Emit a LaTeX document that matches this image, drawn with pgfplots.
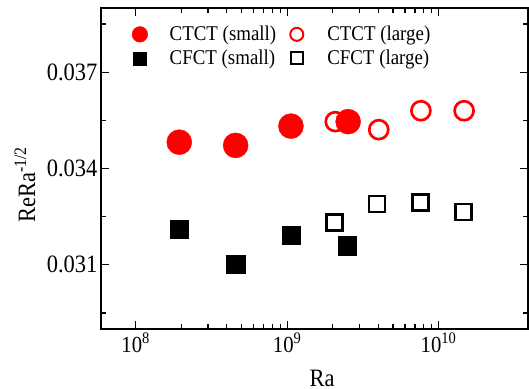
\documentclass[border=0pt]{standalone}
\usepackage{fontspec}
\setmainfont[FakeStretch=0.9]{Liberation Serif}
\usepackage{pgfplots}
\pgfplotsset{compat=1.18}
\begin{document}
\begin{tikzpicture}
\path[use as bounding box] (-101pt,-59pt) rectangle (428pt,329pt);
\begin{axis}[
  at={(0pt,0pt)}, anchor=south west,
  scale only axis, width=427pt, height=321pt,
  xmode=log, xmin=5.9e7, xmax=3.9e10,
  ymin=0.029, ymax=0.039,
  xtick={1e8,1e9,1e10},
  xticklabels={10\textsuperscript{8},10\textsuperscript{9},10\textsuperscript{10}},
  ytick={0.031,0.034,0.037},
  yticklabels={0.031,0.034,0.037},
  minor ytick={0.0295,0.0325,0.0355,0.0385},
  tick align=inside,
  major tick length=8pt, minor tick length=5pt,
  tick style={black, line width=1.2pt},
  axis line style={line width=1.3pt},
  yticklabel style={font=\fontsize{25}{29}\selectfont},
  xticklabel style={font=\fontsize{23}{27}\selectfont},
  label style={font=\fontsize{25}{29}\selectfont},
  xlabel={Ra},
  ylabel={ReRa\textsuperscript{-1/2}},
  xlabel style={at={(axis description cs:0.518,-0.153)}, anchor=center},
  ylabel style={at={(axis description cs:-0.178,0.449)}, anchor=center},
  legend columns=2,
  legend cell align=left,
  legend style={draw=none, fill=none, at={(axis description cs:0.0653,0.956)}, anchor=north west,
    font=\fontsize{21}{25}\selectfont, row sep=4pt,
    /tikz/every odd column/.append style={column sep=11pt},
    /tikz/every even column/.append style={column sep=12pt}},
]
\addlegendimage{only marks, mark=*, red, mark size=7.8pt}
\addlegendentry{\hspace*{9pt}CTCT (small)}
\addlegendimage{only marks, mark=o, red, mark size=6.5pt, mark options={line width=2pt}}
\addlegendentry{\hspace*{11pt}CTCT (large)}
\addlegendimage{only marks, mark=square*, black, mark size=6.5pt}
\addlegendentry{\hspace*{9pt}CFCT (small)}
\addlegendimage{only marks, mark=square, black, mark size=6pt, mark options={line width=2pt}}
\addlegendentry{\hspace*{11pt}CFCT (large)}

% CTCT large
\addplot[only marks, mark=o, red, mark size=9.5pt, mark options={line width=2.7pt}, forget plot]
  coordinates {(2.08e9,0.03546) (4.03e9,0.03521) (7.65e9,0.03580) (1.475e10,0.03580)};
% CTCT small
\addplot[only marks, mark=*, red, mark size=12.5pt, forget plot]
  coordinates {(1.94e8,0.03482) (4.57e8,0.03472) (1.06e9,0.03532) (2.53e9,0.03546)};
% CFCT large
\addplot[only marks, mark=square, black, mark size=8pt, mark options={line width=2.5pt}, forget plot]
  coordinates {(2.06e9,0.03231) (3.93e9,0.03289) (7.59e9,0.03294) (1.46e10,0.03265)};
% CFCT small
\addplot[only marks, mark=square*, black, mark size=9.2pt, forget plot]
  coordinates {(1.94e8,0.03210) (4.57e8,0.03102) (1.06e9,0.03192) (2.50e9,0.03160)};
\end{axis}
\end{tikzpicture}
\end{document}
